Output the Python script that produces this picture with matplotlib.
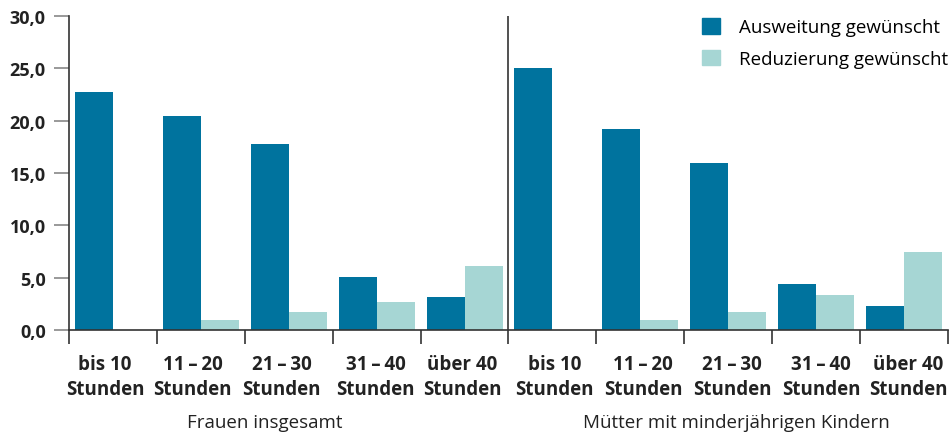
import matplotlib
matplotlib.use("Agg")
import matplotlib.pyplot as plt
import matplotlib.transforms as mtransforms
import numpy as np
from matplotlib.patches import Patch

categories = ["bis 10\nStunden", "11\u2009–\u200920\nStunden", "21\u2009–\u200930\nStunden",
              "31\u2009–\u200940\nStunden", "über 40\nStunden"]
groups = ["Frauen insgesamt", "Mütter mit minderjährigen Kindern"]
series_names = ["Ausweitung gewünscht", "Reduzierung gewünscht"]
ausweitung = [22.7, 20.4, 17.8, 5.1, 3.2, 25.0, 19.2, 16.0, 4.4, 2.3]
reduzierung = [0.0, 1.0, 1.7, 2.7, 6.1, 0.0, 1.0, 1.7, 3.3, 7.5]
yticks = [0, 5, 10, 15, 20, 25, 30]

plt.rcParams['font.family'] = ['Open Sans', 'DejaVu Sans']

c_blue = "#00739E"
c_light = "#A6D6D4"
c_dark = "#333333"
c_text = "#222222"

W, H = 953, 435
fig = plt.figure(figsize=(W / 100, H / 100), dpi=100)
ax = fig.add_axes([69 / W, (H - 331) / H, (948 - 69) / W, (331 - 17) / H])

n = len(ausweitung)
x = np.arange(n)
bw = 0.432
ax.bar(x - bw / 2, ausweitung, width=bw, color=c_blue, label=series_names[0], zorder=2)
ax.bar(x + bw / 2, reduzierung, width=bw, color=c_light, label=series_names[1], zorder=2)

ax.set_xlim(-0.5, n - 0.5)
ax.set_ylim(0, 30)

for s in ["top", "right"]:
    ax.spines[s].set_visible(False)
for s in ["left", "bottom"]:
    ax.spines[s].set_color(c_dark)
    ax.spines[s].set_linewidth(1.2)

ax.set_yticks(yticks)
ax.set_yticklabels([f"{v:.1f}".replace(".", ",") for v in yticks],
                   fontsize=13, fontweight="bold", color=c_text)
ax.tick_params(axis="y", length=10.8, width=1.2, color="#888888", pad=6)

ax.set_xticks(x)
ax.set_xticklabels(categories * 2, fontsize=13.5, fontweight="bold", color=c_text,
                   linespacing=1.35)
ax.tick_params(axis="x", which="major", length=0, pad=17)
ax.set_xticks(np.arange(n + 1) - 0.5, minor=True)
ax.tick_params(axis="x", which="minor", length=10, width=1.2, color=c_dark)

# slight horizontal label nudges as in the original layout (pixels)
nudges = [-8, -8, -7, -1, -2, 2, 3, 4, 5, 4]
for lab, dx in zip(ax.get_xticklabels(), nudges):
    lab.set_transform(lab.get_transform() +
                      mtransforms.ScaledTranslation(dx / 100, 0, fig.dpi_scale_trans))

ax.axvline(4.5, color=c_dark, linewidth=1.2, zorder=3)

fig.text(265 / W, (H - 428) / H, groups[0], ha="center", va="baseline",
         fontsize=13.5, color=c_text)
fig.text(736 / W, (H - 428) / H, groups[1], ha="center", va="baseline",
         fontsize=13.5, color=c_text)

handles = [Patch(color=c_blue), Patch(color=c_light)]
ax.legend(handles, series_names, loc="upper right", bbox_to_anchor=(1.004, 1.005),
          frameon=False, fontsize=13.5, handlelength=0.95, handleheight=0.9,
          handletextpad=1.0, labelspacing=0.7, borderaxespad=0.0, borderpad=0.2)

fig.savefig("out.png", dpi=100)
